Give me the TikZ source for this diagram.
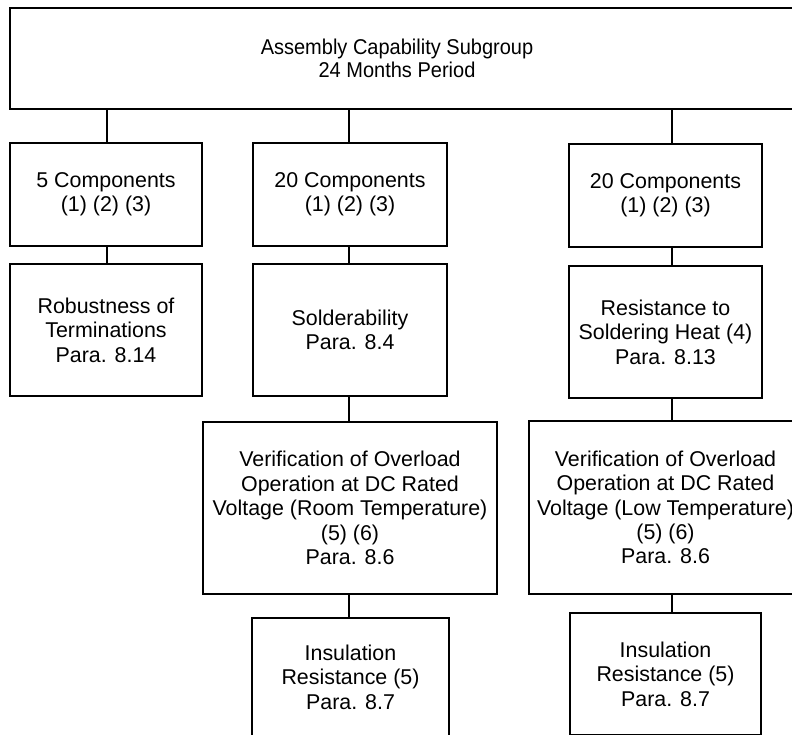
\documentclass[tikz,border=0pt]{standalone}
\usepackage{fontspec}
\setmainfont{Liberation Sans}
\begin{document}
\begin{tikzpicture}[x=1pt,y=-1pt,
  box/.style={draw=black, line width=1.4pt, rectangle, inner sep=0pt, align=center,
    font=\fontsize{21.4}{24.4}\selectfont},
  lbl/.style={inner sep=0pt, align=center, font=\fontsize{21.4}{23.6}\selectfont},
  conn/.style={draw=black, line width=1.4pt}]
\useasboundingbox (0,0) rectangle (792,734);
\clip (0,0) rectangle (792,734);
% top
\node[box, minimum width=790pt, minimum height=101pt] (top) at (405,58.5) {};
\node[lbl, xscale=0.935, transform shape] (toptext) at (397,58.5) {Assembly Capability Subgroup\\24 Months Period};
% column 1
\node[box, minimum width=192pt, minimum height=103pt] (c1r1) at (106,194.5) {5 Components\\(1) (2) (3)};
\node[box, minimum width=192pt, minimum height=132pt] (c1r2) at (106,330) {Robustness of\\Terminations\\Para. 8.14};
% column 2
\node[box, minimum width=194pt, minimum height=103pt] (c2r1) at (350,194.5) {20 Components\\(1) (2) (3)};
\node[box, minimum width=194pt, minimum height=132pt] (c2r2) at (350,330) {Solderability\\Para. 8.4};
\node[box, minimum width=294pt, minimum height=172pt] (c2r3) at (350,508) {Verification of Overload\\Operation at DC Rated\\Voltage (Room Temperature)\\(5) (6)\\Para. 8.6};
\node[box, minimum width=197pt, minimum height=118pt] (c2r4) at (350.5,677) {Insulation\\Resistance (5)\\Para. 8.7};
% column 3
\node[box, minimum width=193pt, minimum height=103pt] (c3r1) at (665.5,195.5) {20 Components\\(1) (2) (3)};
\node[box, minimum width=193pt, minimum height=132pt] (c3r2) at (665.5,332) {Resistance to\\Soldering Heat (4)\\Para. 8.13};
\node[box, minimum width=273pt, minimum height=173pt] (c3r3) at (665.5,507.5) {Verification of Overload\\Operation at DC Rated\\Voltage (Low Temperature)\\(5) (6)\\Para. 8.6};
\node[box, minimum width=191pt, minimum height=122pt] (c3r4) at (665.5,674) {Insulation\\Resistance (5)\\Para. 8.7};
% connector x positions
\coordinate (x1) at (107,0);
\coordinate (x2) at (349,0);
\coordinate (x3) at (672,0);
% connectors
\draw[conn] (top.south -| x1) -- (c1r1.north -| x1);
\draw[conn] (top.south -| x2) -- (c2r1.north -| x2);
\draw[conn] (top.south -| x3) -- (c3r1.north -| x3);
\draw[conn] (c1r1.south -| x1) -- (c1r2.north -| x1);
\draw[conn] (c2r1.south -| x2) -- (c2r2.north -| x2);
\draw[conn] (c2r2.south -| x2) -- (c2r3.north -| x2);
\draw[conn] (c2r3.south -| x2) -- (c2r4.north -| x2);
\draw[conn] (c3r1.south -| x3) -- (c3r2.north -| x3);
\draw[conn] (c3r2.south -| x3) -- (c3r3.north -| x3);
\draw[conn] (c3r3.south -| x3) -- (c3r4.north -| x3);
\end{tikzpicture}
\end{document}
